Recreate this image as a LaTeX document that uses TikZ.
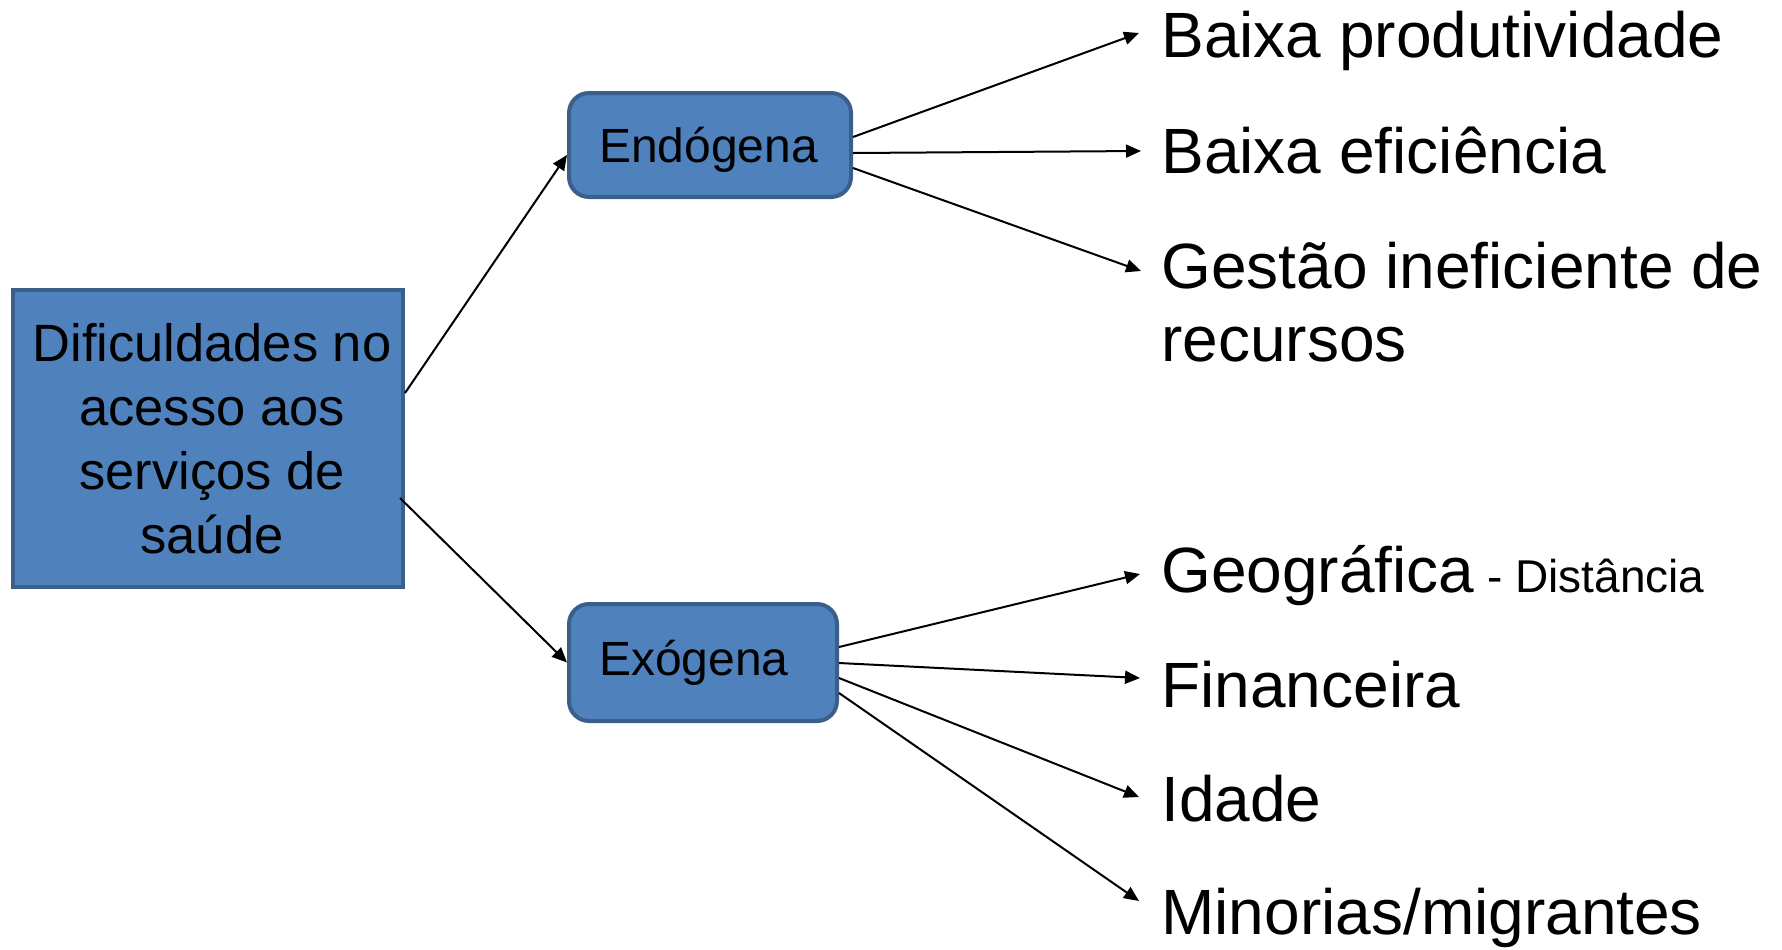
\documentclass[tikz,border=0pt]{standalone}
\usepackage{fontspec}
\setmainfont{Liberation Sans}
\usetikzlibrary{arrows.meta,calc}
\definecolor{boxfill}{HTML}{4F81BD}
\definecolor{boxline}{HTML}{3A5F8B}
\begin{document}
\begin{tikzpicture}[x=0.5pt,y=-0.5pt,
  mainbox/.style={draw=boxline,fill=boxfill,line width=2pt,minimum width=195pt,minimum height=148.5pt,inner sep=0pt,align=center,font=\fontsize{26.25pt}{32pt}\selectfont},
  subbox/.style={draw=boxline,fill=boxfill,line width=2pt,rounded corners=10pt,inner xsep=15pt,inner ysep=0pt,align=left,font=\fontsize{24pt}{28pt}\selectfont},
  item/.style={anchor=base west,inner sep=0pt,align=left,font=\fontsize{32pt}{36.5pt}\selectfont},
  conn/.style={line width=1pt,-{Triangle[length=7.5pt,width=6.5pt]}},
]
\useasboundingbox (0,0) rectangle (1782,949);
\node[mainbox] (main) at (208,438.5) {\hspace*{4pt}Dificuldades no\\\hspace*{4pt}acesso aos\\\hspace*{4pt}serviços de\\\hspace*{4pt}saúde};
\node[subbox,text width=111pt,minimum height=52pt,text depth=0pt] (endo) at (710,145) {Endógena};
\node[subbox,text width=104pt,minimum height=58.5pt] (exo) at (703,662.5) {Exógena};

\node[item] (b1) at (1161,57) {Baixa produtividade};
\node[item] (b2) at (1161,173) {Baixa eficiência};
\node[item] (b3) at (1161,361) {Gestão ineficiente de\\recursos};
\node[item] (g1) at (1161,592) {Geográfica{\fontsize{23pt}{27pt}\selectfont{} - Distância}};
\node[item] (g2) at (1161,707) {Financeira};
\node[item] (g3) at (1161,821) {Idade};
\node[item] (g4) at (1161,934) {Minorias/migrantes};

\draw[conn] ([yshift=22.75pt]main.east) -- ([yshift=-5pt]endo.west);
\draw[conn] ([xshift=-2.5pt,yshift=-29.75pt]main.east) -- (exo.west);

\draw[conn] ([yshift=4pt]endo.east) -- ([xshift=-11pt,yshift=12pt]b1.base west);
\draw[conn] ([yshift=-4pt]endo.east) -- ([xshift=-10pt,yshift=11pt]b2.base west);
\draw[conn] ([yshift=-11.5pt]endo.east) -- ([xshift=-10pt,yshift=45pt]b3.base west);

\draw[conn] ([yshift=7.75pt]exo.east) -- ([xshift=-10.5pt,yshift=9pt]g1.base west);
\draw[conn] ([yshift=-0.25pt]exo.east) -- ([xshift=-10.5pt,yshift=14.5pt]g2.base west);
\draw[conn] ([yshift=-7.75pt]exo.east) -- ([xshift=-11pt,yshift=12pt]g3.base west);
\draw[conn] ([yshift=-15.25pt]exo.east) -- ([xshift=-11pt,yshift=16.5pt]g4.base west);
\end{tikzpicture}
\end{document}
